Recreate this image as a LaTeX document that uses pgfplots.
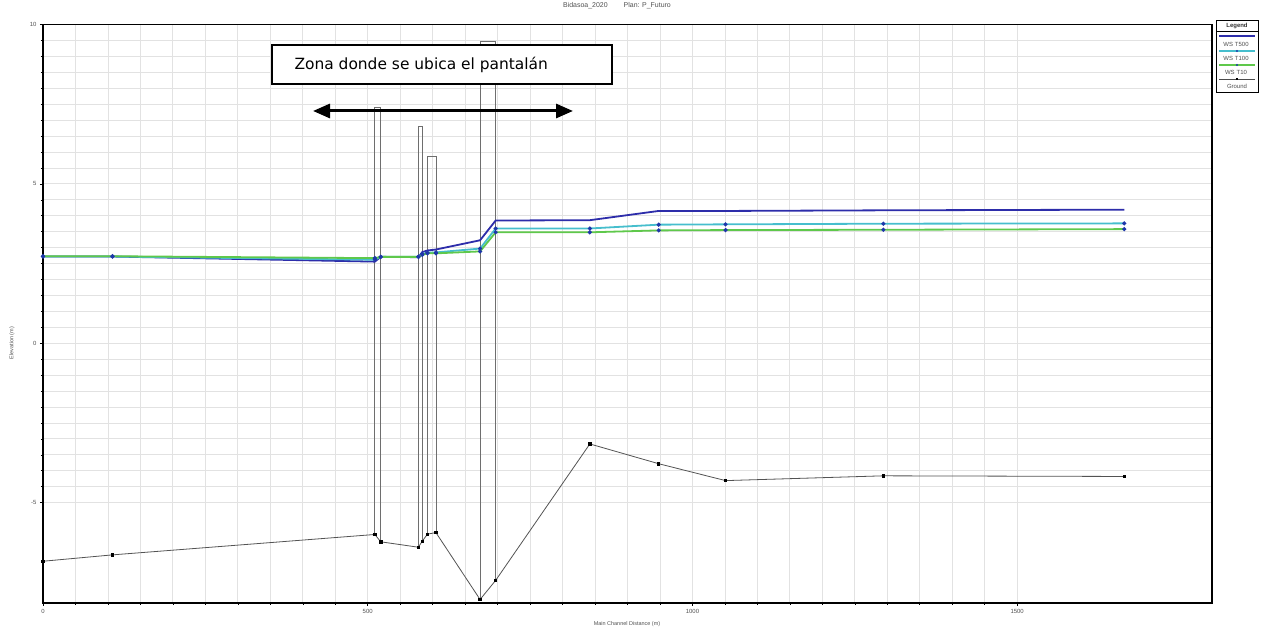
\documentclass[border=0pt]{standalone}
\usepackage{fontspec}
\setmainfont{Liberation Sans}
\newfontfamily\verdana{DejaVu Sans}
\usepackage{pgfplots}
\pgfplotsset{compat=1.18}
\usetikzlibrary{arrows.meta}
\definecolor{wsA}{RGB}{45,45,170}
\definecolor{wsB}{RGB}{70,190,205}
\definecolor{wsC}{RGB}{95,200,75}
\definecolor{mk}{RGB}{30,55,170}
\definecolor{gridc}{RGB}{226,226,226}
\definecolor{bridge}{RGB}{110,110,110}
\definecolor{lbl}{RGB}{80,80,80}
\begin{document}
\begin{tikzpicture}
\useasboundingbox (0,0) rectangle (1261bp,629bp);
\begin{axis}[
  at={(43bp,26bp)}, anchor=south west,
  scale only axis, width=1169bp, height=578.5bp,
  xmin=0, xmax=1800, ymin=-8.15, ymax=10,
  xtick={0,500,1000,1500}, ytick={-5,0,5,10},
  minor x tick num=9, minor y tick num=9,
  grid=both, grid style={gridc, line width=0.8bp},
  major grid style={gridc, line width=0.8bp},
  axis line style={black, line width=1.6bp},
  tick pos=left, tick align=outside,
  major tick length=3bp, minor tick length=2bp,
  tick style={black, line width=0.5bp},
  ticklabel style={font=\fontsize{6}{7}\selectfont, text=lbl},
  /pgf/number format/assume math mode=true,
  /pgf/number format/1000 sep={},
]
% bridge / structure outlines
\addplot[bridge, line width=0.8bp] coordinates {(511,-6.0) (511,7.41) (520,7.41) (520,-6.23)};
\addplot[bridge, line width=0.8bp] coordinates {(578,-6.40) (578,6.81) (584,6.81) (584,-6.21)};
\addplot[bridge, line width=0.8bp] coordinates {(592,-5.99) (592,5.85) (605,5.85) (605,-5.94)};
\addplot[bridge, line width=0.8bp] coordinates {(673,-8.04) (673,9.46) (697,9.46) (697,-7.44)};
% Ground
\addplot[gray!65!black, line width=0.8bp, mark=square*, mark size=1.2bp, mark options={black}] coordinates {
(0,-6.84) (107,-6.64) (511,-6.0) (520,-6.23) (578,-6.40) (584,-6.21) (592,-5.99) (605,-5.94)
(673,-8.04) (697,-7.44) (842,-3.16) (948,-3.78) (1051,-4.31) (1294,-4.16) (1665,-4.18)};
% WS T500
\addplot[wsA, line width=1.8bp] coordinates {
(0,2.72) (107,2.72) (511,2.56) (520,2.71) (578,2.70) (584,2.86) (592,2.91) (605,2.94)
(673,3.23) (697,3.85) (842,3.86) (948,4.15) (1051,4.15) (1294,4.17) (1665,4.19)};
% WS T100
\addplot[wsB, line width=1.8bp, mark=*, mark size=1.0bp, mark options={mk}] coordinates {
(0,2.72) (107,2.72) (511,2.62) (520,2.71) (578,2.71) (584,2.80) (592,2.84) (605,2.85)
(673,2.97) (697,3.60) (842,3.60) (948,3.72) (1051,3.73) (1294,3.75) (1665,3.76)};
% WS T10
\addplot[wsC, line width=1.8bp, mark=*, mark size=1.0bp, mark options={mk}] coordinates {
(0,2.73) (107,2.73) (511,2.67) (520,2.71) (578,2.71) (584,2.77) (592,2.82) (605,2.82)
(673,2.88) (697,3.48) (842,3.48) (948,3.54) (1051,3.55) (1294,3.56) (1665,3.58)};
\end{axis}
\begin{scope}[x=1bp, y=-1bp, yshift=629bp]
  % title and axis labels
  \node[text=lbl, font=\fontsize{7}{8}\selectfont] at (617,6) {Bidasoa\_2020\hspace{16bp}Plan: P\_Futuro};
  \node[text=lbl, font=\fontsize{5.5}{7}\selectfont] at (627,624) {Main Channel Distance (m)};
  \node[text=lbl, font=\fontsize{5.5}{7}\selectfont, rotate=90] at (12,343) {Elevation (m)};
  % annotation
  \draw[black, line width=1.3bp, fill=white] (272,45) rectangle (612,84);
  \node[anchor=west, font=\verdana\fontsize{15.5}{17}\selectfont] at (291,64.5) {Zona donde se ubica el pantalán};
  \draw[black, line width=3bp, {Triangle[length=17bp,width=14bp]}-{Triangle[length=17bp,width=14bp]}] (313,111) -- (573,111);
  % legend
  \draw[black, line width=0.8bp, fill=white] (1216,20) rectangle (1258,92);
  \node[font=\bfseries\fontsize{6}{7}\selectfont, text=black!80] at (1237,26) {Legend};
  \draw[black, line width=0.6bp] (1216,31) -- (1258,31);
  \draw[wsA, line width=1.5bp] (1219,36) -- (1255,36);
  \node[font=\fontsize{6}{7}\selectfont, text=lbl] at (1236,44) {WS\,\,T500};
  \draw[wsB, line width=1.5bp] (1219,51) -- (1255,51);
  \fill[mk] (1237,51) circle (1.1bp);
  \node[font=\fontsize{6}{7}\selectfont, text=lbl] at (1236,58) {WS\,\,T100};
  \draw[wsC, line width=1.5bp] (1219,65) -- (1255,65);
  \fill[mk] (1237,65) circle (1.1bp);
  \node[font=\fontsize{6}{7}\selectfont, text=lbl] at (1236,72) {WS\,\,T10};
  \draw[black!70, line width=0.8bp] (1219,79) -- (1255,79);
  \fill[black] (1235.8,77.8) rectangle (1238.2,80.2);
  \node[font=\fontsize{6}{7}\selectfont, text=lbl] at (1237,86.5) {Ground};
\end{scope}
\end{tikzpicture}
\end{document}
